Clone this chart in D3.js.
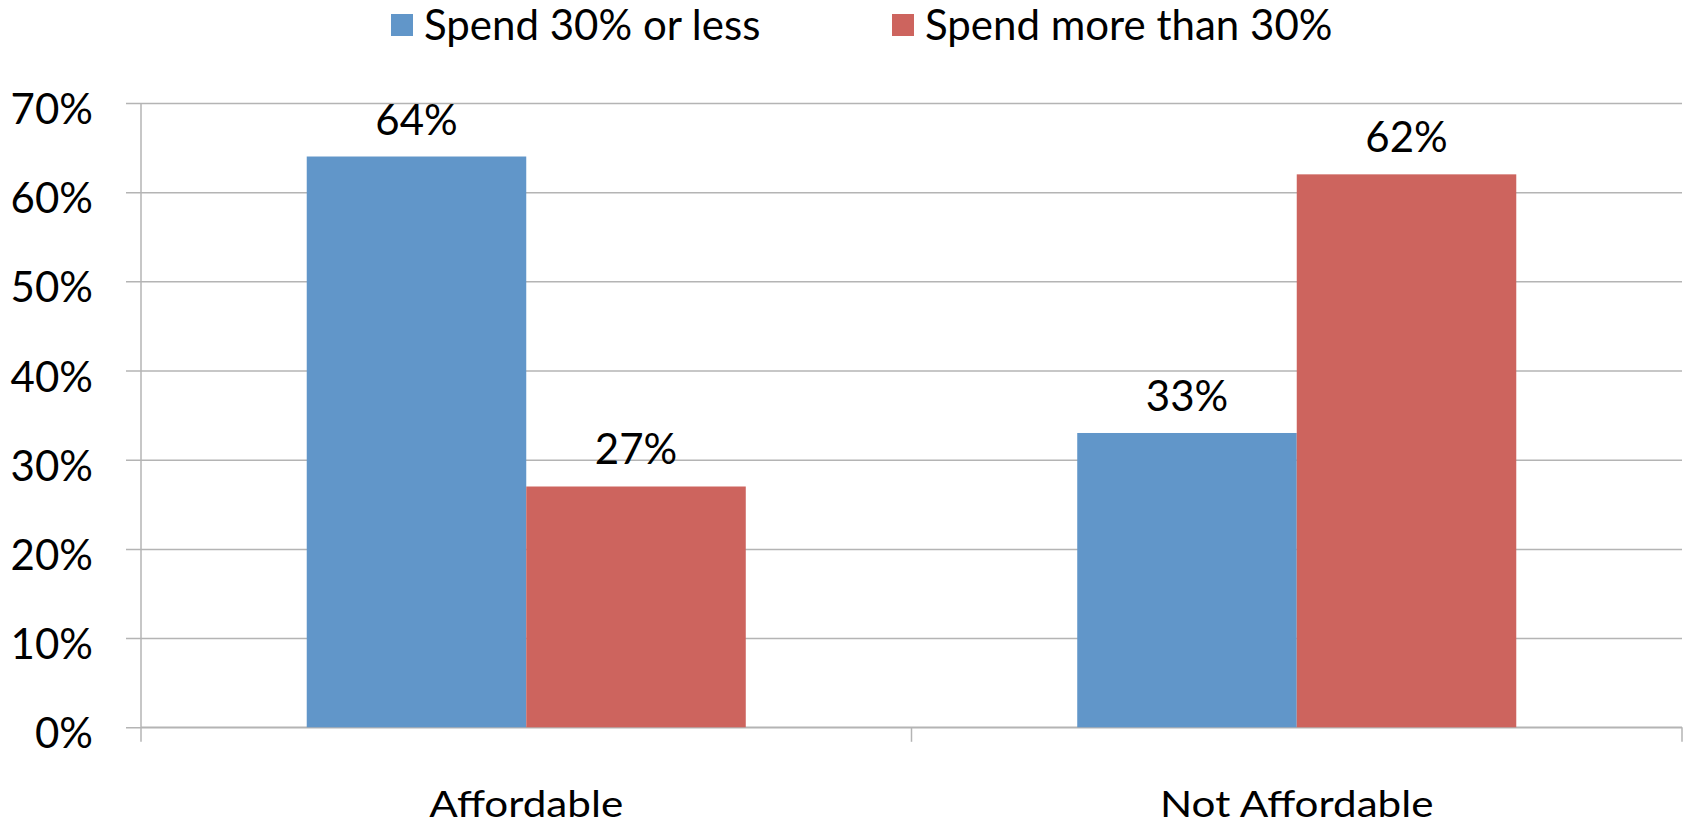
<!DOCTYPE html>
<html><head><meta charset="utf-8">
<script src="https://cdn.jsdelivr.net/npm/d3@7"></script>
<style>html,body{margin:0;padding:0;background:#fff;}svg{display:block;}text{font-family:Lato,"Open Sans",sans-serif;fill:#000;}</style>
</head><body>
<svg id="c" width="1687" height="825"></svg>
<script>
const categories = ["Affordable", "Not Affordable"];
const seriesNames = ["Spend 30% or less", "Spend more than 30%"];
const spend30OrLess = [0.64, 0.33];
const spendMoreThan30 = [0.27, 0.62];
const yTicks = [0, 0.1, 0.2, 0.3, 0.4, 0.5, 0.6, 0.7];
const colors = ["#6196c9", "#cd645e"];

const seriesValues = [spend30OrLess, spendMoreThan30];
const svg = d3.select("#c");
const pLeft = 141, pRight = 1682, pTop = 103, pBottom = 727.3;

const y = d3.scaleLinear().domain([0, 0.7]).range([pBottom, pTop]);
const x0 = d3.scaleBand().domain(categories).range([pLeft, pRight]).paddingInner(0).paddingOuter(0);
const x1 = d3.scaleBand().domain(seriesNames).range([0, x0.bandwidth()]).paddingInner(0).paddingOuter(0.755);
const fmt = d3.format(".0%");
const gridColor = "#b4b4b4";

// gridlines + y axis
const yAxis = d3.axisLeft(y).tickValues(yTicks).tickSize(pRight - pLeft + 15).tickFormat(fmt);
const gy = svg.append("g").attr("transform", `translate(${pRight},0)`).call(yAxis);
gy.select(".domain").remove();
gy.selectAll(".tick line").attr("stroke", gridColor).attr("stroke-width", 1.5);
gy.selectAll(".tick text").attr("x", -(pRight - 93)).attr("dy", "0.32em").attr("y", 7)
  .style("font-size", "42px").attr("fill", "#000");

// vertical axis line
svg.append("line").attr("x1", pLeft).attr("x2", pLeft).attr("y1", pTop).attr("y2", pBottom)
  .attr("stroke", gridColor).attr("stroke-width", 1.5);

// x axis
const gx = svg.append("g").attr("transform", `translate(0,${pBottom})`);
gx.append("line").attr("x1", pLeft).attr("x2", pRight).attr("stroke", gridColor).attr("stroke-width", 1.5);
const boundaries = categories.map(c => x0(c)).concat([pRight]);
gx.selectAll("line.tk").data(boundaries).join("line").attr("class", "tk")
  .attr("x1", d => d).attr("x2", d => d).attr("y1", 0).attr("y2", 14.5)
  .attr("stroke", gridColor).attr("stroke-width", 1.5);
gx.selectAll("text").data(categories).join("text")
  .attr("transform", d => `translate(${x0(d) + x0.bandwidth() / 2},89.5) scale(1.14,1)`)
  .attr("text-anchor", "middle").style("font-size", "37px").text(d => d);

// bars
const groups = svg.append("g").selectAll("g").data(categories).join("g")
  .attr("transform", d => `translate(${x0(d)},0)`);
groups.selectAll("rect").data((c, i) => seriesNames.map((s, j) => ({ s, j, v: seriesValues[j][i] })))
  .join("rect")
  .attr("x", d => x1(d.s)).attr("width", x1.bandwidth())
  .attr("y", d => y(d.v)).attr("height", d => pBottom - y(d.v))
  .attr("fill", d => colors[d.j]);
groups.selectAll("text").data((c, i) => seriesNames.map((s, j) => ({ s, j, v: seriesValues[j][i] })))
  .join("text")
  .attr("x", d => x1(d.s) + x1.bandwidth() / 2).attr("y", d => y(d.v) - 22)
  .attr("text-anchor", "middle").style("font-size", "42px").text(d => fmt(d.v));

// legend
const legendX = [391, 892];
const lg = svg.append("g").selectAll("g").data(seriesNames).join("g")
  .attr("transform", (d, i) => `translate(${legendX[i]},0)`);
lg.append("rect").attr("x", 0).attr("y", 14).attr("width", 22).attr("height", 22)
  .attr("fill", (d, i) => colors[i]);
lg.append("text").attr("x", 33).attr("y", 40).style("font-size", "42px").text(d => d);
</script>
</body></html>
